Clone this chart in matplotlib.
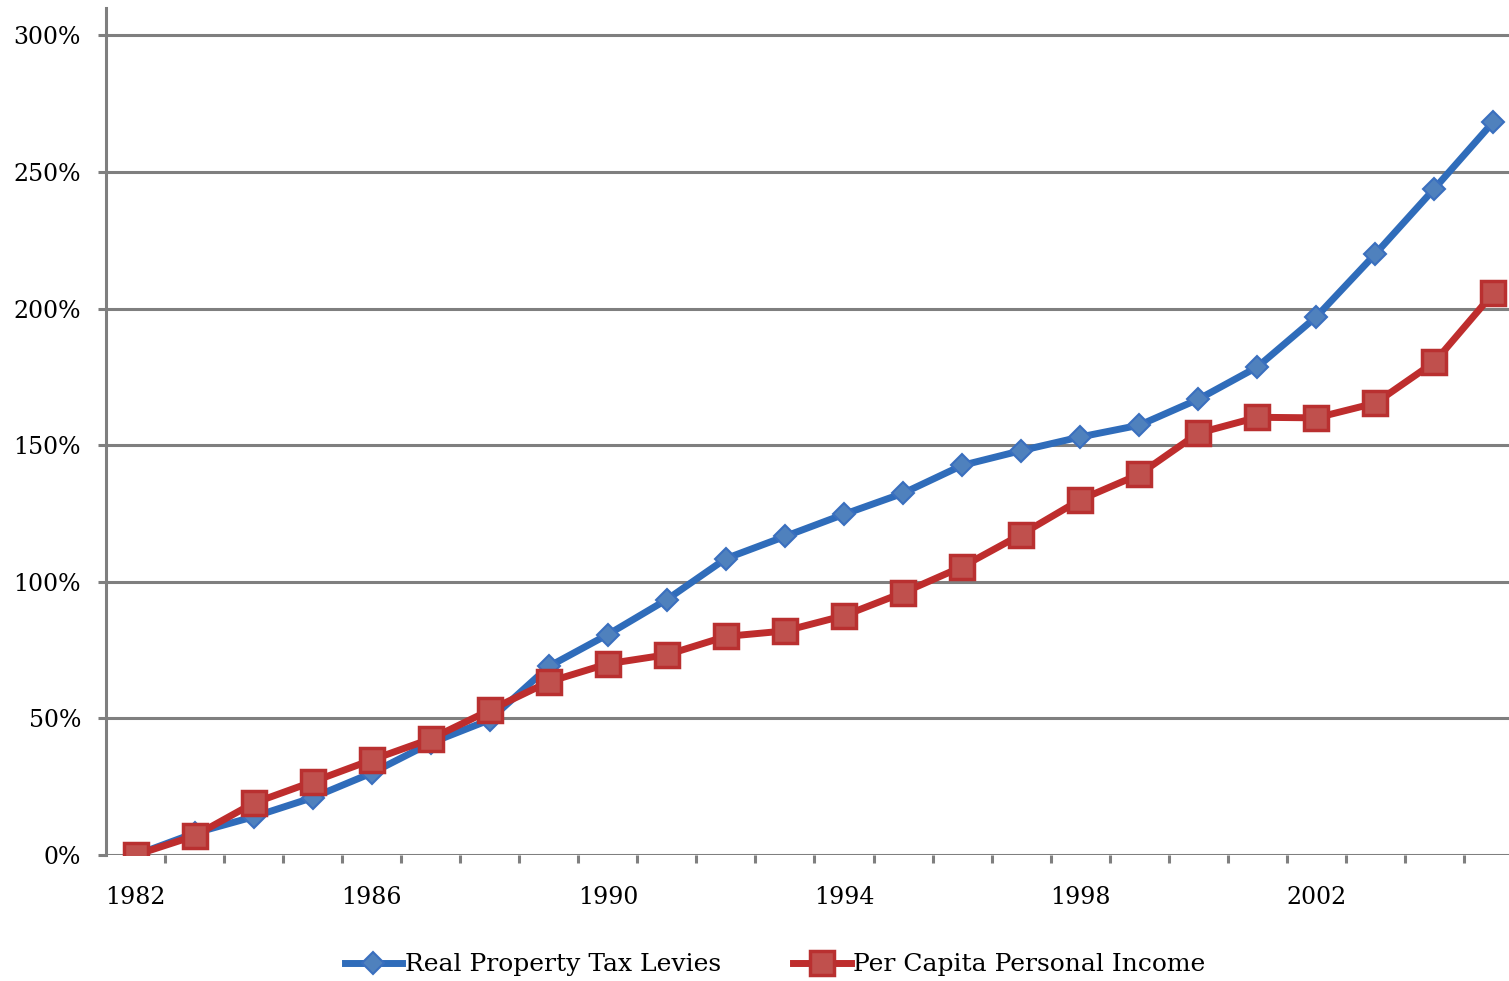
import matplotlib
matplotlib.use("Agg")
import matplotlib.pyplot as plt
from matplotlib.ticker import FixedLocator, FuncFormatter

years = list(range(1982, 2006))
tax_levies = [0, 8, 14, 21, 30, 41, 49.5, 69, 80.7, 93.5, 108.5, 116.6, 124.7, 132.4,
              142.6, 148, 153, 157.3, 166.8, 178.6, 197, 220, 243.9, 268.4]
personal_income = [0, 7, 19, 26.8, 34.8, 42.5, 53, 63.4, 70, 73.3, 80, 82, 87.6, 96,
                   105.5, 117.3, 130, 139.3, 154.4, 160.2, 160, 165.4, 180.4, 205.7]
year_labels = ["1982", "1986", "1990", "1994", "1998", "2002"]
y_ticks = [0, 50, 100, 150, 200, 250, 300]

plt.rcParams["font.family"] = ["DejaVu Serif"]
GRAY = "#7f7f7f"
FS = 17

fig = plt.figure(figsize=(15.09, 9.81), dpi=100)
ax = fig.add_axes([106 / 1509, 126 / 981, 1417 / 1509, 847 / 981])

x = list(range(len(years)))
ax.plot(x, tax_levies, color="#2f6cba", lw=5, marker="D", ms=11,
        mfc="#4f81bd", mec="#3a6fbf", mew=1.5, label="Real Property Tax Levies", zorder=3)
ax.plot(x, personal_income, color="#be2d2d", lw=5, marker="s", ms=17,
        mfc="#c0504d", mec="#b93030", mew=2.5, label="Per Capita Personal Income", zorder=4)

ax.set_xlim(-0.5, len(years) - 0.5)
ax.set_ylim(0, 310)

for v in y_ticks:
    ax.axhline(v, color=GRAY, lw=2.2, zorder=1)
ax.set_yticks(y_ticks)
ax.yaxis.set_major_formatter(FuncFormatter(lambda v, p: f"{int(v)}%"))

label_pos = [years.index(int(y)) for y in year_labels]
ax.set_xticks(label_pos)
ax.set_xticklabels(year_labels)
ax.xaxis.set_minor_locator(FixedLocator([i + 0.5 for i in range(len(years))]))
ax.tick_params(axis="x", which="major", length=0, pad=22, labelsize=FS)
ax.tick_params(axis="x", which="minor", length=6, width=2.2, color=GRAY, direction="out")
ax.tick_params(axis="y", length=6, width=2.2, color=GRAY, labelsize=FS, pad=12)

for s in ["top", "right"]:
    ax.spines[s].set_visible(False)
ax.spines["bottom"].set_visible(False)
ax.spines["left"].set_color(GRAY)
ax.spines["left"].set_linewidth(2.2)

ax.legend(loc="center", bbox_to_anchor=(775 / 1509, 16 / 981), bbox_transform=fig.transFigure,
          ncol=2, frameon=False, fontsize=18, handlelength=2.3, handletextpad=0.1,
          columnspacing=2.9)

fig.savefig("out.png", dpi=100)
